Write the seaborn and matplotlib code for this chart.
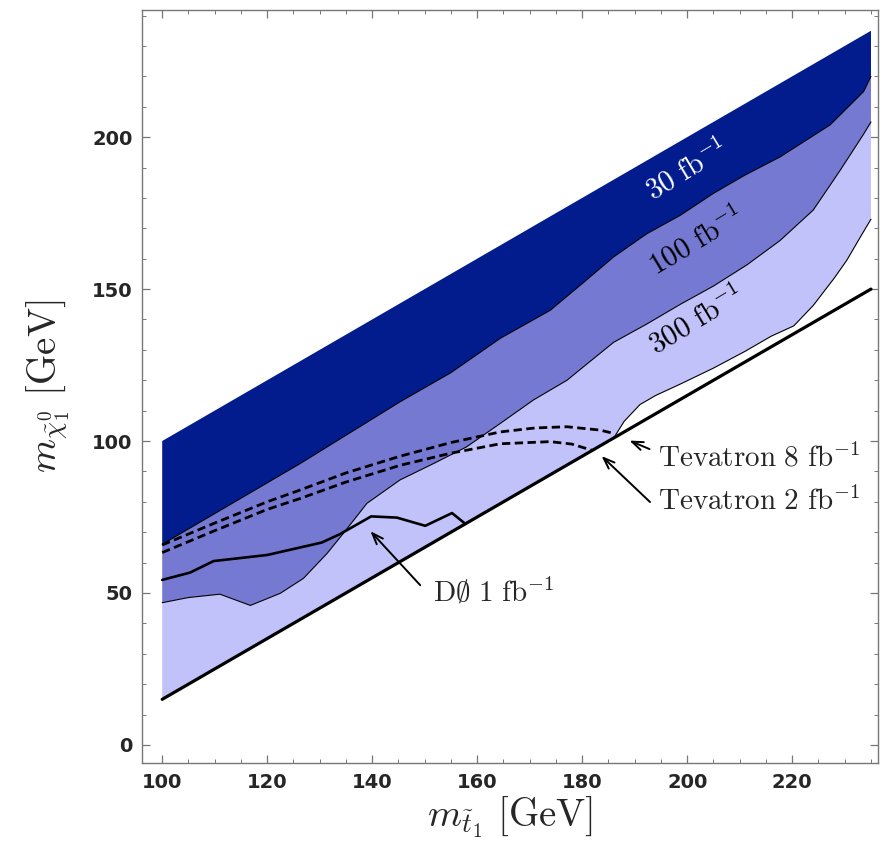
import matplotlib
matplotlib.use("Agg")
import matplotlib.pyplot as plt
from matplotlib.ticker import MultipleLocator
import seaborn as sns

# kinematic edges (stop mass vs neutralino mass)
edge_x = [100, 235]
upper_edge = [100, 235]
kin_line = [15, 150]

# 30 fb^-1 reach (lower boundary of dark band)
b30_x = [100, 126.3, 145.3, 155, 164.4, 173.9, 180, 186, 192.3, 198.7, 205, 211,
         217.7, 227.2, 233.6, 235]
b30_y = [66, 92.6, 112.9, 122.5, 133.8, 143, 151.8, 160.6, 168.2, 174.3, 181.5, 187.5,
         193.5, 204, 215, 220]

# 100 fb^-1 reach
b100_x = [100, 105, 111, 116.8, 122.5, 126.9, 131.4, 134.5, 139, 145.3, 151.7, 158,
          164.4, 170.7, 177.1, 181, 186, 192.3, 198.7, 205, 211.4, 217.7, 224, 229.1,
          233.6, 235]
b100_y = [46.8, 48.5, 49.6, 45.9, 49.9, 54.8, 63, 69.6, 79.5, 87.2, 92.6, 98.1,
          105.8, 113.5, 120, 125.5, 132.5, 138.5, 145, 151, 158, 166, 176, 189,
          201, 205]

# 300 fb^-1 reach (lower edge, on the kinematic line up to ~186)
b300_x = [100, 186, 188, 191, 194, 199, 205, 211, 216, 220.3, 224, 228, 230.4, 233, 235]
b300_y = [15, 101, 106.5, 112, 115, 119, 124, 129.5, 134.5, 137.9, 144.6, 153.6,
          159.5, 167.2, 173]

# Tevatron projections
tev8_x = [100, 110, 120, 126.3, 135, 145.3, 155, 164.4, 171, 177.1, 183.4, 186]
tev8_y = [65.8, 73, 80, 83.9, 89.5, 95, 99.5, 103, 104.3, 104.7, 103.6, 102.5]
tev2_x = [100, 110, 120, 126.3, 135, 145.3, 155, 164.4, 173.9, 178, 181.8]
tev2_y = [63.3, 70.5, 77.5, 81.1, 86.5, 92, 96, 99.1, 99.8, 99, 97]

# D0 1 fb^-1 limit
d0_x = [100, 105.3, 109.8, 120, 130.4, 133.9, 139.8, 144.7, 150.1, 155.2, 157.7]
d0_y = [54.3, 56.7, 60.5, 62.5, 66.6, 69.4, 75.2, 74.8, 72.1, 76.3, 72.8]

c_dark = "#021c8e"
c_mid = "#7579d1"
c_light = "#c2c2fa"

sns.set_style("ticks")
plt.rcParams["mathtext.fontset"] = "cm"
plt.rcParams["font.family"] = ["DejaVu Sans"]

fig, ax = plt.subplots(figsize=(8.89, 8.42), dpi=100)
fig.subplots_adjust(left=0.16, right=0.988, top=0.988, bottom=0.094)

# bands as polygons
ax.fill(edge_x + b30_x[::-1], upper_edge + b30_y[::-1], color=c_dark, lw=0)
ax.fill(b30_x + b100_x[::-1], b30_y + b100_y[::-1], color=c_mid, lw=0)
ax.fill(b100_x + b300_x[::-1], b100_y + b300_y[::-1], color=c_light, lw=0)

for bx, by in [(b30_x, b30_y), (b100_x, b100_y), (b300_x[1:], b300_y[1:])]:
    sns.lineplot(x=bx, y=by, ax=ax, color="black", lw=0.8)

sns.lineplot(x=tev8_x, y=tev8_y, ax=ax, color="black", lw=2.0, linestyle=(0, (3, 1.6)))
sns.lineplot(x=tev2_x, y=tev2_y, ax=ax, color="black", lw=2.0, linestyle=(0, (3, 1.6)))
sns.lineplot(x=edge_x, y=kin_line, ax=ax, color="black", lw=2.3)
sns.lineplot(x=d0_x, y=d0_y, ax=ax, color="black", lw=1.9)

# band labels
ax.text(199.9, 189, r"$\mathrm{30\ fb}^{-1}$", color="white", fontsize=21,
        rotation=31, ha="center", va="center", rotation_mode="anchor")
ax.text(201.8, 165.6, r"$\mathrm{100\ fb}^{-1}$", color="black", fontsize=21,
        rotation=31, ha="center", va="center", rotation_mode="anchor")
ax.text(201.8, 139.6, r"$\mathrm{300\ fb}^{-1}$", color="black", fontsize=21,
        rotation=31, ha="center", va="center", rotation_mode="anchor")

arrow = dict(arrowstyle="->,head_length=0.8,head_width=0.3", color="black", lw=1.4)
ax.annotate("", xy=(139.3, 71), xytext=(149.5, 51.9), arrowprops=arrow)
ax.text(151.6, 50.3, r"$\mathrm{D\emptyset\ 1\ fb}^{-1}$", fontsize=21, ha="left", va="center")
ax.annotate("", xy=(188.5, 100.5), xytext=(193.3, 97), arrowprops=arrow)
ax.text(194.5, 94.6, r"$\mathrm{Tevatron\ 8\ fb}^{-1}$", fontsize=21, ha="left", va="center")
ax.annotate("", xy=(183.3, 95.7), xytext=(193.3, 79.3), arrowprops=arrow)
ax.text(194.5, 80, r"$\mathrm{Tevatron\ 2\ fb}^{-1}$", fontsize=21, ha="left", va="center")

ax.set_xlim(96.2, 236.4)
ax.set_ylim(-5.9, 241.8)
ax.xaxis.set_major_locator(MultipleLocator(20))
ax.xaxis.set_minor_locator(MultipleLocator(5))
ax.yaxis.set_major_locator(MultipleLocator(50))
ax.yaxis.set_minor_locator(MultipleLocator(10))
ax.tick_params(which="both", direction="in", top=True, right=True, color="#777777")
ax.tick_params(which="major", length=6, width=0.9, labelsize=14, pad=7)
ax.tick_params(which="minor", length=3, width=0.7)
for lab in ax.get_xticklabels() + ax.get_yticklabels():
    lab.set_fontweight("bold")
for sp in ax.spines.values():
    sp.set_color("#777777")
    sp.set_linewidth(1.0)

ax.set_xlabel(r"$m_{\tilde{t}_1}\ \mathrm{[GeV]}$", fontsize=28, labelpad=2)
ax.set_ylabel(r"$m_{\tilde{\chi}_1^0}\ \mathrm{[GeV]}$", fontsize=28, labelpad=14)

plt.savefig("out.png", dpi=100)
